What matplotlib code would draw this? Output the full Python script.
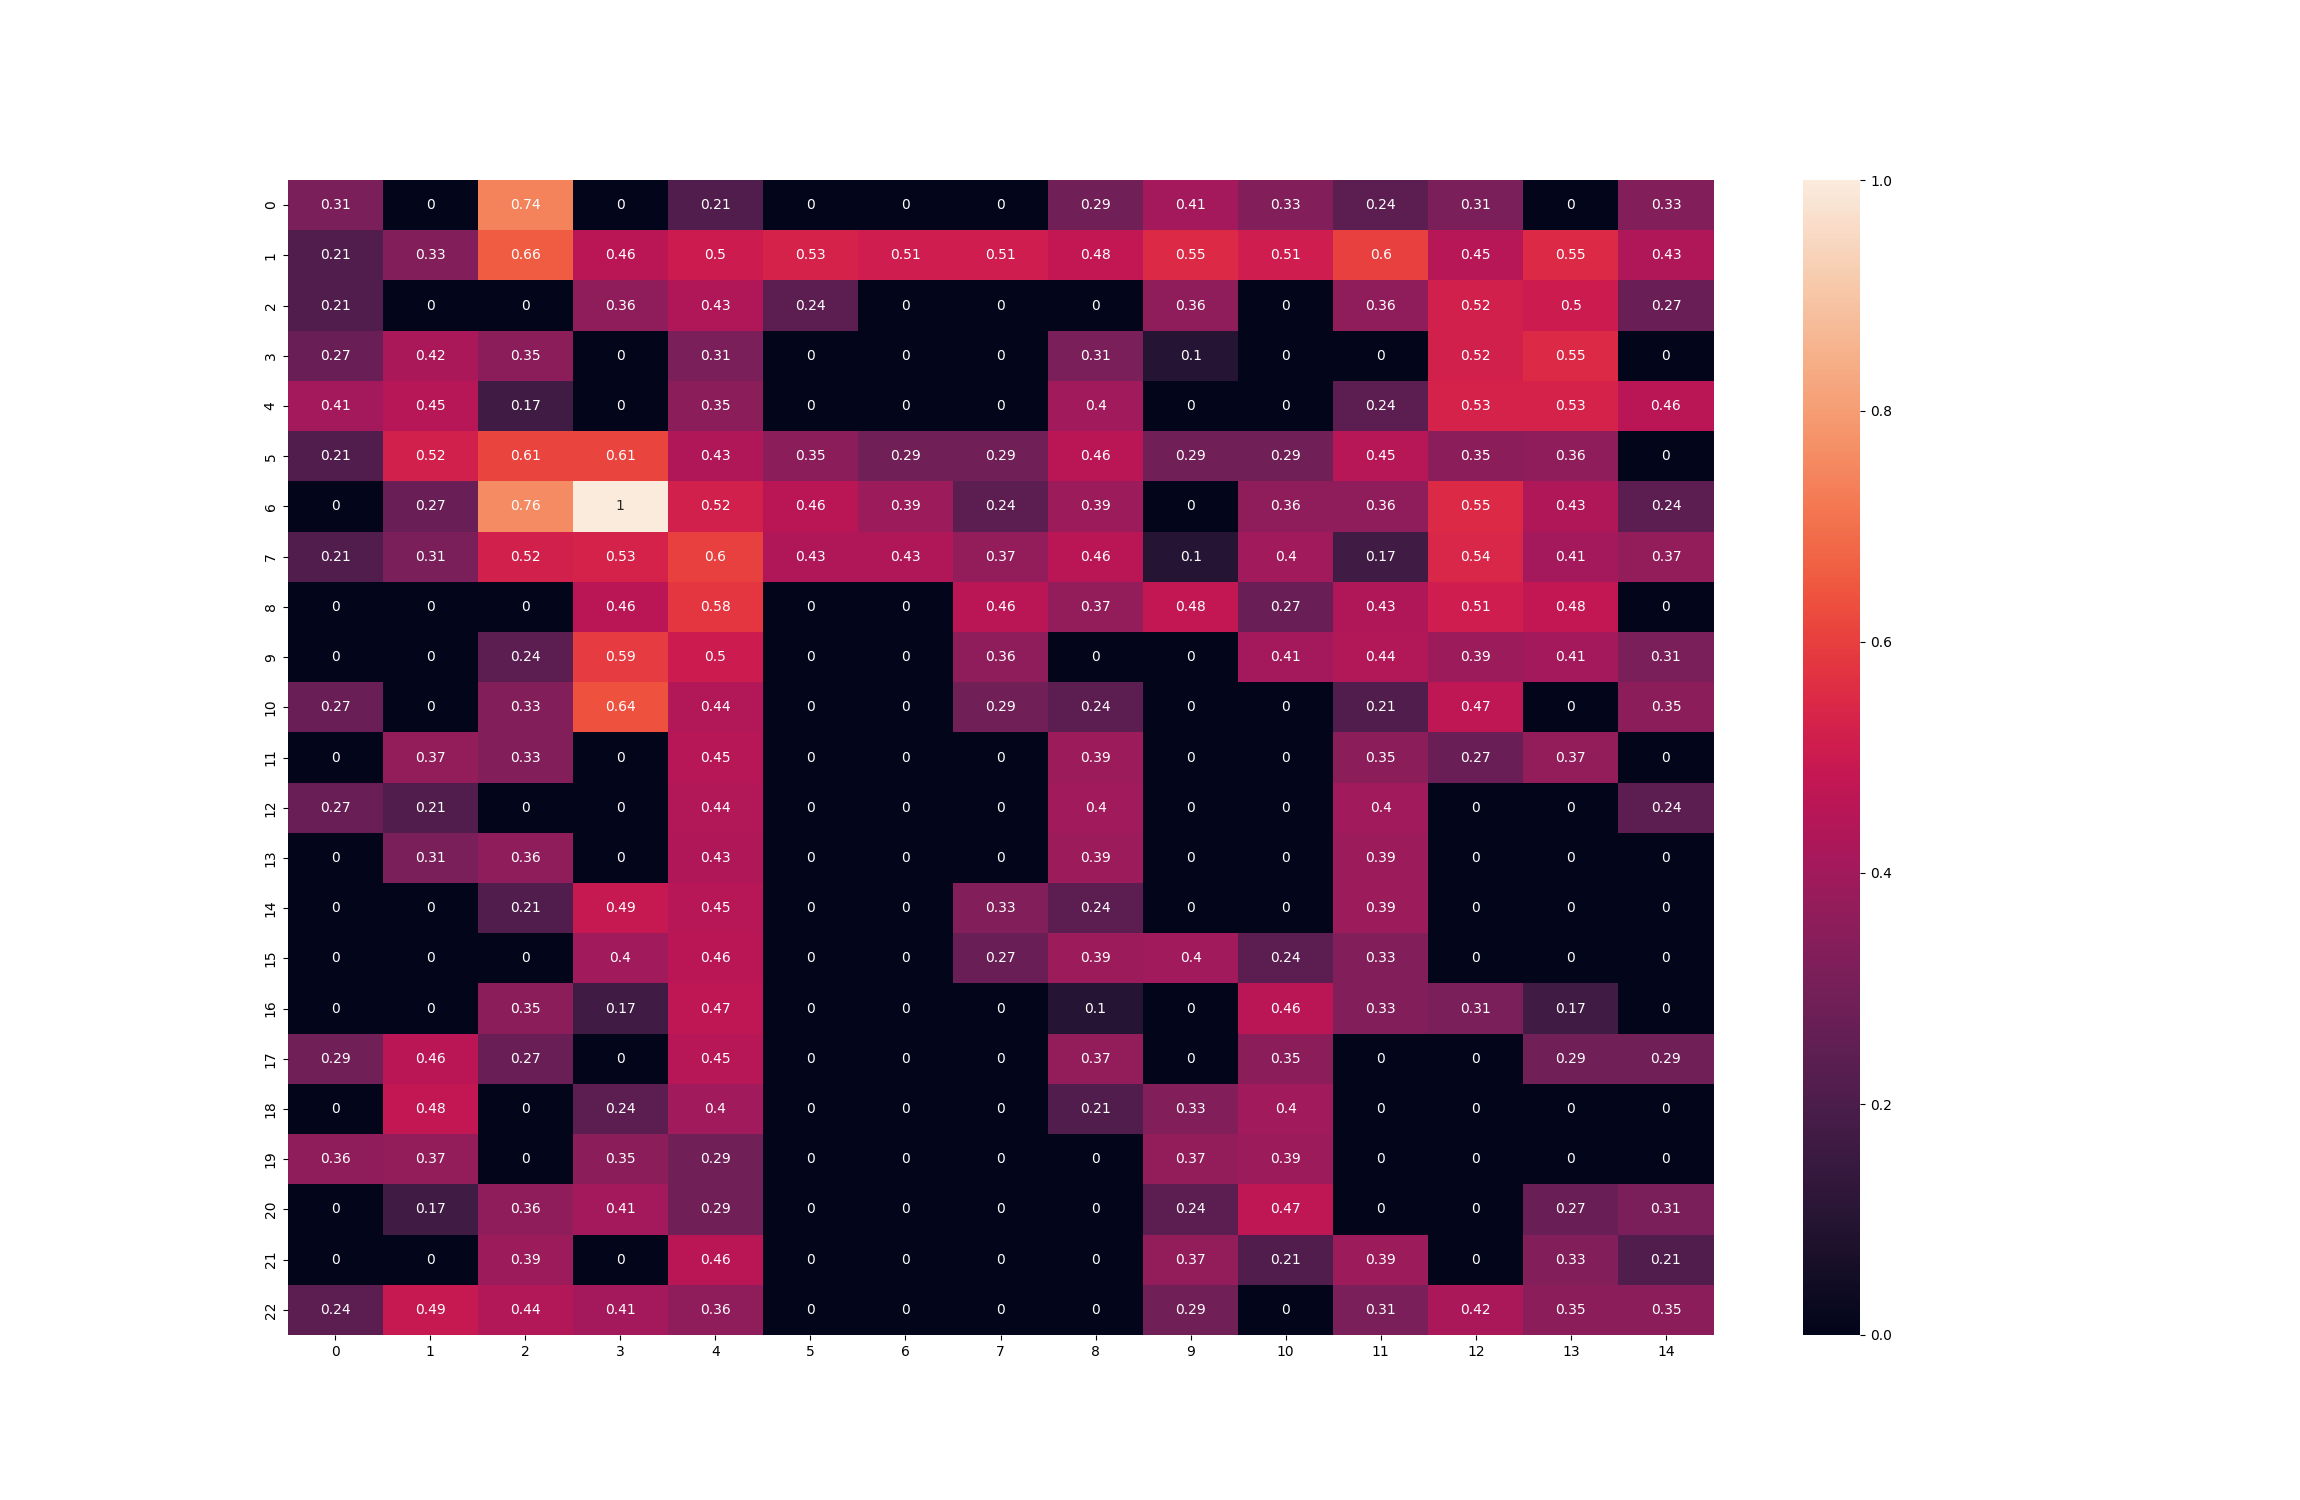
import numpy as np
import matplotlib
matplotlib.use("Agg")
import matplotlib.pyplot as plt
import seaborn as sns

# heatmap values, 23 rows x 15 columns
row0 = [0.31, 0, 0.74, 0, 0.21, 0, 0, 0, 0.29, 0.41, 0.33, 0.24, 0.31, 0, 0.33]
row1 = [0.21, 0.33, 0.66, 0.46, 0.5, 0.53, 0.51, 0.51, 0.48, 0.55, 0.51, 0.6, 0.45, 0.55, 0.43]
row2 = [0.21, 0, 0, 0.36, 0.43, 0.24, 0, 0, 0, 0.36, 0, 0.36, 0.52, 0.5, 0.27]
row3 = [0.27, 0.42, 0.35, 0, 0.31, 0, 0, 0, 0.31, 0.1, 0, 0, 0.52, 0.55, 0]
row4 = [0.41, 0.45, 0.17, 0, 0.35, 0, 0, 0, 0.4, 0, 0, 0.24, 0.53, 0.53, 0.46]
row5 = [0.21, 0.52, 0.61, 0.61, 0.43, 0.35, 0.29, 0.29, 0.46, 0.29, 0.29, 0.45, 0.35, 0.36, 0]
row6 = [0, 0.27, 0.76, 1, 0.52, 0.46, 0.39, 0.24, 0.39, 0, 0.36, 0.36, 0.55, 0.43, 0.24]
row7 = [0.21, 0.31, 0.52, 0.53, 0.6, 0.43, 0.43, 0.37, 0.46, 0.1, 0.4, 0.17, 0.54, 0.41, 0.37]
row8 = [0, 0, 0, 0.46, 0.58, 0, 0, 0.46, 0.37, 0.48, 0.27, 0.43, 0.51, 0.48, 0]
row9 = [0, 0, 0.24, 0.59, 0.5, 0, 0, 0.36, 0, 0, 0.41, 0.44, 0.39, 0.41, 0.31]
row10 = [0.27, 0, 0.33, 0.64, 0.44, 0, 0, 0.29, 0.24, 0, 0, 0.21, 0.47, 0, 0.35]
row11 = [0, 0.37, 0.33, 0, 0.45, 0, 0, 0, 0.39, 0, 0, 0.35, 0.27, 0.37, 0]
row12 = [0.27, 0.21, 0, 0, 0.44, 0, 0, 0, 0.4, 0, 0, 0.4, 0, 0, 0.24]
row13 = [0, 0.31, 0.36, 0, 0.43, 0, 0, 0, 0.39, 0, 0, 0.39, 0, 0, 0]
row14 = [0, 0, 0.21, 0.49, 0.45, 0, 0, 0.33, 0.24, 0, 0, 0.39, 0, 0, 0]
row15 = [0, 0, 0, 0.4, 0.46, 0, 0, 0.27, 0.39, 0.4, 0.24, 0.33, 0, 0, 0]
row16 = [0, 0, 0.35, 0.17, 0.47, 0, 0, 0, 0.1, 0, 0.46, 0.33, 0.31, 0.17, 0]
row17 = [0.29, 0.46, 0.27, 0, 0.45, 0, 0, 0, 0.37, 0, 0.35, 0, 0, 0.29, 0.29]
row18 = [0, 0.48, 0, 0.24, 0.4, 0, 0, 0, 0.21, 0.33, 0.4, 0, 0, 0, 0]
row19 = [0.36, 0.37, 0, 0.35, 0.29, 0, 0, 0, 0, 0.37, 0.39, 0, 0, 0, 0]
row20 = [0, 0.17, 0.36, 0.41, 0.29, 0, 0, 0, 0, 0.24, 0.47, 0, 0, 0.27, 0.31]
row21 = [0, 0, 0.39, 0, 0.46, 0, 0, 0, 0, 0.37, 0.21, 0.39, 0, 0.33, 0.21]
row22 = [0.24, 0.49, 0.44, 0.41, 0.36, 0, 0, 0, 0, 0.29, 0, 0.31, 0.42, 0.35, 0.35]

data = np.array([row0, row1, row2, row3, row4, row5, row6, row7, row8, row9,
                 row10, row11, row12, row13, row14, row15, row16, row17, row18,
                 row19, row20, row21, row22])

fig = plt.figure(figsize=(23, 15), dpi=100)
sns.heatmap(data, annot=True)
plt.savefig("out.png")
